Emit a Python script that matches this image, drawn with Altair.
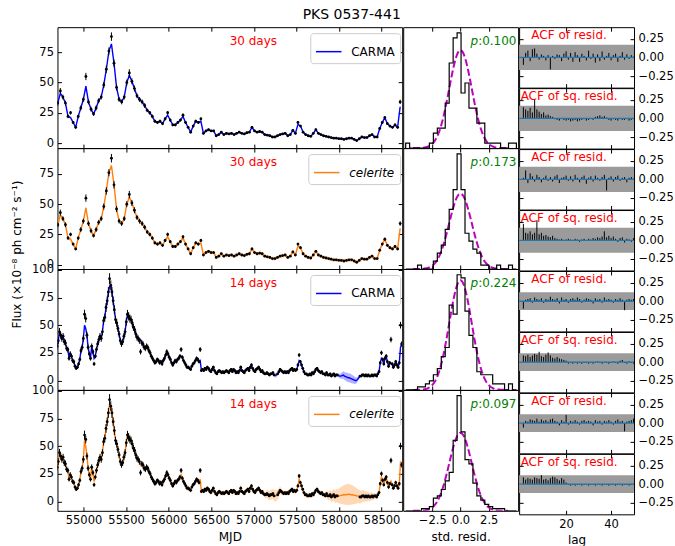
import numpy as np
import pandas as pd
import altair as alt

FONT = "DejaVu Sans"
FS = 11.5

# ---------------- PKS 0537-441 light curves ----------------
# 30-day binned fluxes (1e-8 ph cm^-2 s^-1), first bin centre MJD 54698
MJD0_30, STEP_30 = 54698, 30
flux_30 = [
    33, 43, 38, 33, 22, 25, 17, 13, 22, 29,
    36, 55, 34, 28, 24, 29, 35, 38, 48, 61,
    76, 88, 66, 46, 36, 34, 38, 50, 58, 51,
    45, 39, 36, 34, 31, 27, 25, 22, 18, 17,
    18, 16, 20, 25, 19, 15, 15, 17, 19, 23,
    17, 13, 9, 14, 18, 17, 20, 8, 10, 11,
    10, 10, 6, 7, 9, 7, 8, 7.5, 8, 7,
    8, 9, 8, 7.5, 8.5, 9, 13, 10, 9, 9.5,
    9, 7, 6.5, 6, 5, 5, 6, 7, 7.5, 8,
    6, 7, 10.5, 8, 17, 14, 9, 7, 6, 5.5,
    8, 11, 8, 7, 6, 5.5, 5, 4.5, 4, 4,
    3.6, 3.5, 3, 3.5, 4, 4, 3, 2, 3.5, 5,
    4.5, 4.5, 6, 7, 5, 5, 12, 17, 21, 16,
    14, 13, 15, 13, 34,
]
err_30 = [
    2, 2.5, 2, 2, 1.5, 1.5, 1.2, 1, 1.5, 2,
    2, 3, 2, 2, 1.5, 2, 2, 2, 2.5, 3,
    3, 3.5, 3, 2.5, 2, 2, 2, 2.5, 3, 2.5,
    2.5, 2, 2, 2, 2, 1.5, 1.5, 1.5, 1.2, 1.2,
    1.2, 1.2, 1.3, 1.5, 1.3, 1.1, 1.1, 1.2, 1.2, 1.5,
    1.2, 1, 0.8, 1, 1.2, 1.2, 1.3, 0.8, 0.9, 0.9,
    0.9, 0.9, 0.7, 0.7, 0.8, 0.7, 0.8, 0.7, 0.8, 0.7,
    0.8, 0.8, 0.8, 0.7, 0.8, 0.8, 1, 0.9, 0.8, 0.8,
    0.8, 0.7, 0.7, 0.7, 0.6, 0.6, 0.7, 0.7, 0.7, 0.8,
    0.7, 0.7, 0.9, 0.8, 1.1, 1, 0.8, 0.7, 0.7, 0.6,
    0.8, 0.9, 0.8, 0.7, 0.7, 0.6, 0.6, 0.6, 0.6, 0.6,
    0.5, 0.5, 0.5, 0.5, 0.6, 0.6, 0.5, 0.5, 0.5, 0.6,
    0.6, 0.6, 0.7, 0.7, 0.6, 0.6, 1, 1.2, 1.3, 1.1,
    1, 1, 1.1, 1, 1.8,
]
# bins where the fitted curves pass below/above the binned flux
fit_30_fix = {1: 41, 5: 21, 11: 47, 21: 82, 28: 56, 43: 23, 49: 22, 56: 18, 94: 15.5, 134: 30}

# 14-day binned fluxes, first bin centre MJD 54690 (None = no detection)
MJD0_14, STEP_14 = 54690, 14
flux_14 = [
    31, 36, 44, 41, 38, 40, 35, 34, 29, 28,
    20, 24, 22, 18, 17, 13, 11, 12, 15, 19,
    27, 30, 38, 60, 56, 41, 30, 24, 20, 31,
    26, 15, 22, 28, 33, 37, 40, 38, 44, 54,
    57, 66, 72, 80, 92, 86, 80, 72, 64, 55,
    52, 47, 42, 36, 33, 35, 40, 44, 53, 60,
    58, 56, 55, 52, 48, 46, 42, 39, 38, 36,
    26, 34, 33, 30, 29, 31, 30, 27, 25, 22,
    20, 18, 16, 17, 19, 18, 16, 17, 15, 18,
    20, 23, 26, 24, 21, 19, 16, 14, 16, 18,
    17, 19, 20, 22, 28, 21, 18, 16, 14, 12,
    12, 11, 10, 13, 15, 16, 18, 20, 19, 17,
    28, 9, 10, 9, 11, 10, 12, 11, 9, 8,
    10, 12, 9, 7, 6, 8, 9, 8, 7, 8,
    7, 8, 9, 8, 7, 9, 10, 8, 10, 9,
    7, 8, 7, 9, 12, 9, 8, 7, 9, 10,
    11, 9, 12, 14, 11, 9, 8, 10, 11, 12,
    10, 8, 9, 7, 6, 6, 7, 6, 5, 6,
    6, 7, 5, None, None, 6, 8, 10, 9, 8,
    7, 8, 7, 8, 7, 9, 10, 11, 9, 10,
    9, 10, 14, 23, 17, 14, 11, 8, 6, 6,
    5, 5, 6, 5, 7, 6, 8, 10, 11, 9,
    8, 7, 8, 6, 6, 5, 7, 5, 5, 6,
    4, 5, 6, 4, 5, 5, None, None, None, None,
    None, None, None, None, None, None, None, None, None, None,
    None, None, None, None, 4, 4, 5, 5, 4, 5,
    4, 5, 4, 4, 5, 4, 5, 5, 4, 6,
    8, 16, 25, 19, 15, 20, 22, 17, 13, 16,
    37, 15, 12, 14, 17, 14, 12, 16, 50, 33,
]
err_14 = [
    3, 3, 3.5, 3, 3, 3, 3, 3, 2.5, 2.5,
    2, 2.5, 2, 2, 2, 1.5, 1.5, 1.5, 1.8, 2,
    2.5, 2.5, 3, 4, 3.5, 3, 2.5, 2.2, 2, 2.5,
    2.3, 1.8, 2, 2.5, 2.8, 3, 3, 3, 3.2, 3.5,
    3.5, 4, 4, 4.5, 5, 4.5, 4.5, 4, 4, 3.5,
    3.5, 3.2, 3, 2.8, 2.6, 2.8, 3, 3.2, 3.5, 3.8,
    3.8, 3.6, 3.5, 3.5, 3.2, 3.2, 3, 3, 2.8, 2.8,
    2.5, 2.6, 2.6, 2.5, 2.5, 2.5, 2.5, 2.3, 2.2, 2,
    2, 1.8, 1.7, 1.8, 1.8, 1.8, 1.7, 1.7, 1.6, 1.8,
    1.9, 2, 2.2, 2, 1.9, 1.8, 1.6, 1.5, 1.6, 1.7,
    1.6, 1.7, 1.8, 1.9, 2.2, 1.8, 1.7, 1.6, 1.5, 1.3,
    1.3, 1.3, 1.2, 1.4, 1.5, 1.5, 1.6, 1.8, 1.7, 1.6,
    2.2, 1.1, 1.2, 1.1, 1.2, 1.2, 1.3, 1.2, 1.1, 1,
    1.2, 1.3, 1.1, 1, 0.9, 1, 1.1, 1, 1, 1,
    1, 1, 1.1, 1, 1, 1.1, 1.2, 1, 1.2, 1.1,
    1, 1, 1, 1.1, 1.3, 1.1, 1, 1, 1.1, 1.2,
    1.2, 1.1, 1.3, 1.4, 1.2, 1.1, 1, 1.2, 1.2, 1.3,
    1.2, 1, 1.1, 1, 0.9, 0.9, 1, 0.9, 0.8, 0.9,
    0.9, 1, 0.8, None, None, 0.9, 1, 1.2, 1.1, 1,
    1, 1, 1, 1, 1, 1.1, 1.2, 1.2, 1.1, 1.2,
    1.1, 1.2, 1.4, 1.8, 1.5, 1.4, 1.2, 1, 0.9, 0.9,
    0.8, 0.8, 0.9, 0.8, 1, 0.9, 1, 1.2, 1.2, 1.1,
    1, 1, 1, 0.9, 0.9, 0.8, 1, 0.8, 0.8, 0.9,
    0.8, 0.8, 0.9, 0.8, 0.8, 0.8, None, None, None, None,
    None, None, None, None, None, None, None, None, None, None,
    None, None, None, None, 0.8, 0.8, 0.9, 0.9, 0.8, 0.9,
    0.8, 0.9, 0.8, 0.8, 0.9, 0.8, 0.9, 0.9, 0.8, 1,
    1.1, 1.6, 2, 1.7, 1.5, 1.8, 1.9, 1.6, 1.4, 1.6,
    2.5, 1.5, 1.3, 1.5, 1.6, 1.5, 1.3, 1.6, 3, 2.4,
]
# fitted CARMA curve where it departs from the bins, and across the gaps
carma_14_fix = {
    23: 50, 24: 47, 31: 20, 44: 85, 70: 37, 104: 22, 120: 18, 183: 4.5, 184: 5,
    203: 18, 236: 4.5, 237: 4, 238: 4, 239: 4.5, 240: 5, 241: 4, 242: 3.5, 243: 3,
    244: 2.5, 245: 2.5, 246: 2, 247: 1.5, 248: 1, 249: 0.5, 250: 0, 251: 0,
    252: 1, 253: 2.5, 272: 20, 280: 15, 288: 30,
}
carma_14_band_fix = {
    183: 2, 184: 2, 236: 1.5, 237: 2, 238: 2.5, 239: 3, 240: 3.3, 241: 3.6, 242: 3.8,
    243: 4, 244: 4, 245: 4, 246: 4, 247: 4, 248: 3.8, 249: 3.5, 250: 3.2, 251: 2.8,
    252: 2.2, 253: 1.6,
}
celerite_14_fix = {
    23: 55, 24: 50, 31: 18, 44: 88, 70: 33, 104: 24, 120: 20, 183: 5, 184: 5.5,
    203: 20, 236: 5, 237: 5, 238: 5.5, 239: 5.5, 240: 6, 241: 6, 242: 6, 243: 6,
    244: 6.5, 245: 6.5, 246: 6, 247: 6, 248: 6, 249: 5.5, 250: 5.5, 251: 5,
    252: 5, 253: 4.5, 272: 22, 280: 18, 288: 35,
}
celerite_14_band_fix = {
    175: 3, 176: 3.5, 177: 4, 178: 4, 179: 4.5, 180: 4.5, 181: 4.5, 182: 5, 183: 5,
    184: 5, 185: 4.5, 186: 4, 187: 3.5, 188: 3,
    226: 3, 227: 3.5, 228: 4, 229: 4.5, 230: 5, 231: 5, 232: 5.5, 233: 5.5, 234: 6,
    235: 6, 236: 6.5, 237: 7, 238: 7.5, 239: 8, 240: 8.5, 241: 9, 242: 9, 243: 9.5,
    244: 9.5, 245: 9.5, 246: 9, 247: 9, 248: 8.5, 249: 8, 250: 7.5, 251: 7, 252: 6.5,
    253: 6, 254: 6, 255: 5.5, 256: 5.5, 257: 5, 258: 5, 259: 4.5, 260: 4.5, 261: 4,
    262: 4, 263: 3.5, 264: 3.5, 265: 3, 266: 3,
}

# ---------------- standardised residual histograms ----------------
HIST_EDGE0, HIST_BIN = -4.85, 0.35
hist_counts = [
    [1, 0, 0, 0, 0, 0, 1, 3, 4, 4, 9, 17, 22, 23, 11, 13, 8, 8, 5, 5, 1, 1, 1, 1, 0, 0, 1, 1],
    [0, 0, 0, 1, 0, 0, 0, 2, 4, 6, 10, 15, 20, 29, 20, 9, 7, 5, 4, 1, 1, 0, 0, 1, 0, 0, 1, 0],
    [0, 0, 0, 1, 1, 2, 3, 5, 7, 11, 14, 28, 25, 38, 37, 26, 18, 14, 6, 5, 5, 5, 2, 2, 2, 0, 2, 0],
    [0, 0, 0, 0, 1, 1, 2, 6, 7, 10, 14, 18, 33, 54, 37, 24, 22, 13, 7, 5, 3, 2, 1, 1, 1, 0, 0, 0],
]
p_values = ["0.100", "0.173", "0.224", "0.097"]

# ---------------- residual autocorrelations (lags 1..50) ----------------
acf_resid = [
    [-0.10, 0.06, 0.09, -0.05, 0.11, 0.12, 0.05, -0.03, 0.04, 0.02, -0.04, 0.03, -0.16, 0.02, -0.02, 0.04, 0.03,
     -0.05, 0.05, 0.08, -0.03, 0.06, -0.06, 0.07, 0.03, -0.06, 0.05, 0.02, -0.04, 0.09, -0.02, 0.05, -0.07, 0.04,
     -0.05, 0.08, -0.03, 0.02, 0.06, -0.04, 0.03, 0.05, -0.06, 0.02, 0.07, -0.03, 0.04, -0.02, 0.03, 0.01],
    [0.02, 0.12, -0.05, 0.08, 0.04, -0.03, 0.06, 0.03, -0.04, 0.02, 0.05, -0.02, 0.03, -0.03, 0.04, 0.06, -0.05,
     0.02, 0.03, 0.05, -0.02, 0.04, -0.03, 0.06, 0.02, -0.04, 0.03, 0.05, -0.06, 0.02, 0.04, -0.03, 0.05, 0.02,
     -0.02, 0.03, 0.06, -0.15, 0.02, 0.04, -0.03, 0.03, 0.05, -0.02, 0.02, 0.03, -0.04, 0.02, 0.03, 0.01],
    [-0.10, 0.02, 0.03, 0.04, -0.02, 0.05, 0.03, 0.02, 0.04, -0.02, 0.03, 0.02, 0.06, 0.03, 0.02, 0.04, -0.03,
     0.05, 0.02, 0.03, -0.02, 0.03, 0.04, 0.02, 0.05, 0.03, -0.02, 0.02, 0.04, 0.03, 0.02, -0.03, 0.04, 0.02,
     0.03, -0.02, 0.05, 0.02, 0.03, 0.02, -0.02, 0.03, 0.02, 0.04, 0.02, -0.12, 0.02, 0.03, 0.02, 0.03],
    [-0.06, 0.03, 0.02, 0.05, 0.04, 0.03, 0.06, 0.02, 0.05, 0.03, 0.04, 0.02, 0.05, 0.06, 0.03, 0.02, -0.03,
     0.04, 0.02, 0.11, -0.02, 0.03, 0.02, 0.04, 0.02, -0.02, 0.03, 0.04, 0.02, 0.03, 0.02, -0.03, 0.04, 0.02,
     0.03, -0.02, 0.03, 0.02, 0.04, 0.02, -0.02, 0.03, 0.05, 0.02, 0.03, -0.11, 0.02, 0.03, 0.04, 0.06],
]
acf_sq = [
    [0.15, 0.12, 0.10, 0.14, 0.08, 0.25, 0.12, 0.09, 0.06, 0.08, 0.04, 0.05, 0.03, 0.02, -0.01, -0.02, -0.03,
     -0.01, -0.02, -0.03, -0.02, -0.04, -0.03, -0.02, -0.04, -0.03, -0.02, -0.01, -0.03, -0.02, -0.01, -0.02,
     0.02, 0.03, 0.04, 0.02, 0.03, 0.01, -0.02, -0.03, -0.01, -0.02, -0.03, -0.01, -0.02, -0.02, -0.01, -0.03,
     -0.02, -0.01],
    [0.22, 0.10, 0.09, 0.12, 0.08, 0.10, 0.27, 0.08, 0.10, 0.06, 0.07, 0.05, 0.04, 0.06, 0.03, 0.02, 0.01, 0.02,
     -0.01, 0.01, 0.02, 0.01, -0.01, 0.02, 0.01, -0.02, 0.01, 0.02, -0.01, 0.02, 0.01, 0.03, 0.02, 0.04, 0.03,
     0.05, 0.12, 0.04, 0.06, 0.03, 0.05, 0.02, -0.02, 0.03, 0.04, -0.03, 0.02, 0.01, -0.02, 0.03],
    [0.09, 0.08, 0.10, 0.07, 0.09, 0.11, 0.10, 0.14, 0.08, 0.07, 0.10, 0.13, 0.09, 0.06, 0.05, 0.07, 0.05, 0.04,
     0.03, 0.02, -0.02, -0.01, -0.02, -0.01, -0.02, -0.01, -0.02, -0.01, -0.01, -0.02, -0.01, -0.02, -0.01, 0.01,
     -0.01, -0.02, -0.01, -0.01, -0.02, -0.01, 0.01, -0.01, -0.02, 0.02, 0.03, -0.01, -0.02, 0.01, -0.01, -0.02],
    [0.09, 0.06, 0.08, 0.07, 0.06, 0.09, 0.08, 0.07, 0.12, 0.06, 0.07, 0.05, 0.08, 0.10, 0.09, 0.07, 0.05, 0.08,
     0.06, 0.02, -0.01, -0.02, -0.01, -0.02, -0.01, -0.01, -0.02, -0.01, -0.01, -0.02, -0.01, -0.01, -0.02,
     -0.01, -0.01, -0.02, -0.01, -0.01, -0.02, -0.01, -0.01, -0.02, -0.01, -0.01, -0.02, -0.01, -0.01, -0.02,
     -0.01, -0.01],
]

# ---------------- layout constants ----------------
LC_W, HIST_W, ACF_W = 345, 115, 115
ROW_H = 121
ACF_H = ROW_H / 2
MJD_DOMAIN = [54694, 58742]
MJD_TICKS = list(range(55000, 58501, 500))
CARMA_COLOR = "#0000ff"
CELERITE_COLOR = "#ff7f0e"


def patched(values, fix):
    out = list(values)
    for k, v in fix.items():
        out[k] = v
    return out


def ax_in(orient, values, labels=False, title=None, fmt=None, **extra):
    """Matplotlib-style axis: ticks pointing into the frame, no domain line."""
    kw = dict(orient=orient, values=values, tickSize=4, offset=-4, domain=False, grid=False,
              labels=labels, tickColor="black", tickWidth=1, labelColor="black",
              labelFont=FONT, labelFontSize=FS, labelPadding=4, labelFlush=False,
              labelOverlap=False, title=title, titleFont=FONT, titleFontSize=12,
              titleFontWeight="normal", titleColor="black", titlePadding=5)
    if fmt is not None:
        kw["format"] = fmt
    kw.update(extra)
    return alt.Axis(**kw)


def lc_panel(t, flux, err, fit, band, color, name, days, ydom, yticks, bottom, italic, ytitle):
    pts = pd.DataFrame({"t": t, "flux": flux, "err": err}).dropna()
    pts["elo"] = pts["flux"] - pts["err"]
    pts["ehi"] = pts["flux"] + pts["err"]
    fit_df = pd.DataFrame({"t": t, "fit": fit, "hw": band})
    fit_df["blo"] = fit_df["fit"] - fit_df["hw"]
    fit_df["bhi"] = fit_df["fit"] + fit_df["hw"]
    fit_df["series"] = name

    xs = alt.Scale(domain=MJD_DOMAIN, nice=False, zero=False)
    ys = alt.Scale(domain=ydom, nice=False, zero=False)

    left_kw = {}
    if ytitle:
        left_kw = dict(titleX=-41.3, titleY=106, titleAngle=270, titleAlign="center",
                       titleBaseline="alphabetic", titleFontSize=12)
    axes_a = alt.Chart(fit_df).mark_line(opacity=0, clip=True).encode(
        x=alt.X("t:Q", scale=xs, axis=ax_in("bottom", MJD_TICKS, labels=bottom,
                                            title="MJD" if bottom else None, fmt="d")),
        y=alt.Y("fit:Q", scale=ys, axis=ax_in("left", yticks, labels=True,
                                              title=ytitle if ytitle else None, fmt="d", **left_kw)),
    )
    axes_b = alt.Chart(fit_df).mark_line(opacity=0, clip=True).encode(
        x=alt.X("t:Q", scale=xs, axis=ax_in("top", MJD_TICKS)),
        y=alt.Y("fit:Q", scale=ys, axis=ax_in("right", yticks)),
    )
    shade = alt.Chart(fit_df).mark_area(color=color, opacity=0.3, clip=True).encode(
        x=alt.X("t:Q", scale=xs, axis=None),
        y=alt.Y("blo:Q", scale=ys, axis=None),
        y2="bhi:Q",
    )
    legend_x = 251 if italic else 253
    line = alt.Chart(fit_df).mark_line(strokeWidth=1.4, clip=True).encode(
        x=alt.X("t:Q", scale=xs, axis=None),
        y=alt.Y("fit:Q", scale=ys, axis=None),
        color=alt.Color("series:N", scale=alt.Scale(domain=[name], range=[color]),
                        legend=alt.Legend(title=None, orient="none", legendX=legend_x, legendY=6,
                                          fillColor="white", strokeColor="#cccccc", cornerRadius=3,
                                          padding=5, symbolSize=650, symbolStrokeWidth=1.5,
                                          labelFont=FONT, labelFontSize=12, labelOffset=9,
                                          labelFontStyle="italic" if italic else "normal",
                                          labelColor="black")),
    )
    bars = alt.Chart(pts).mark_rule(color="black", strokeWidth=1, clip=True).encode(
        x=alt.X("t:Q", scale=xs, axis=None),
        y=alt.Y("elo:Q", scale=ys, axis=None),
        y2="ehi:Q",
    )
    dots = alt.Chart(pts).mark_circle(color="black", size=8, opacity=1, clip=True).encode(
        x=alt.X("t:Q", scale=xs, axis=None),
        y=alt.Y("flux:Q", scale=ys, axis=None),
    )
    label = alt.Chart(pd.DataFrame({"s": [days]})).mark_text(
        color="red", font=FONT, fontSize=12, align="center", baseline="middle"
    ).encode(text="s:N", x=alt.value(196), y=alt.value(14))
    return alt.layer(shade, line, bars, dots, axes_a, axes_b, label).resolve_axis(
        x="independent", y="independent").properties(width=LC_W, height=ROW_H)


def hist_panel(counts, pval, bottom):
    counts = np.asarray(counts, dtype=float)
    edges = HIST_EDGE0 + HIST_BIN * np.arange(len(counts) + 1)
    dens = counts / (counts.sum() * HIST_BIN)
    step = pd.DataFrame({
        "x": np.concatenate([[edges[0]], edges[:-1], [edges[-1]]]),
        "d": np.concatenate([[0.0], dens, [0.0]]),
    })
    step["i"] = np.arange(len(step))
    gx = np.linspace(-4.2, 4.2, 121)
    gauss = pd.DataFrame({"x": gx, "d": np.exp(-0.5 * gx ** 2) / np.sqrt(2 * np.pi)})

    xs = alt.Scale(domain=[-5.07, 5.1], nice=False, zero=False)
    ys = alt.Scale(domain=[0, dens.max() * 1.05], nice=False, zero=False)
    ticks = [-2.5, 0.0, 2.5]
    outline = alt.Chart(step).mark_line(color="black", strokeWidth=1.2, interpolate="step-after",
                                        clip=True).encode(
        x=alt.X("x:Q", scale=xs, axis=ax_in("bottom", ticks, labels=bottom,
                                            title="std. resid." if bottom else None, fmt=".1f")),
        y=alt.Y("d:Q", scale=ys, axis=None),
        order="i:Q",
    )
    top = alt.Chart(step).mark_line(opacity=0, clip=True).encode(
        x=alt.X("x:Q", scale=xs, axis=ax_in("top", ticks)),
        y=alt.Y("d:Q", scale=ys, axis=None),
    )
    curve = alt.Chart(gauss).mark_line(color="#bf00bf", strokeWidth=2, strokeDash=[7, 3], clip=True).encode(
        x=alt.X("x:Q", scale=xs, axis=None),
        y=alt.Y("d:Q", scale=ys, axis=None),
    )
    p_it = alt.Chart(pd.DataFrame({"s": ["p"]})).mark_text(
        color="green", font=FONT, fontSize=12, fontStyle="italic", align="right", baseline="middle"
    ).encode(text="s:N", x=alt.value(75), y=alt.value(14))
    p_val = alt.Chart(pd.DataFrame({"s": [":" + pval]})).mark_text(
        color="green", font=FONT, fontSize=12, align="left", baseline="middle"
    ).encode(text="s:N", x=alt.value(75), y=alt.value(14))
    return alt.layer(curve, outline, top, p_it, p_val).resolve_axis(
        x="independent", y="independent").properties(width=HIST_W, height=ROW_H)


def acf_panel(vals, n_points, title, bottom):
    df = pd.DataFrame({"lag": np.arange(1, len(vals) + 1), "v": vals})
    ci = 1.96 / np.sqrt(n_points)
    xs = alt.Scale(domain=[-0.9, 50.2], nice=False, zero=False)
    ys = alt.Scale(domain=[-0.405, 0.405], nice=False, zero=False)
    yt = [-0.25, 0.0, 0.25]
    xt = [20, 40]
    band = alt.Chart(pd.DataFrame({"lo": [-ci], "hi": [ci]})).mark_rect(color="#9b9b9b").encode(
        x=alt.value(0), x2=alt.value(ACF_W),
        y=alt.Y("lo:Q", scale=ys, axis=None), y2="hi:Q",
    )
    stems = alt.Chart(df).mark_rule(color="black", strokeWidth=1).encode(
        x=alt.X("lag:Q", scale=xs, axis=ax_in("bottom", xt, labels=bottom,
                                              title="lag" if bottom else None, fmt="d")),
        y=alt.Y("v:Q", scale=ys, axis=ax_in("right", yt, labels=True, fmt=".2f")),
        y2=alt.datum(0),
    )
    frame_axes = alt.Chart(df).mark_point(opacity=0).encode(
        x=alt.X("lag:Q", scale=xs, axis=ax_in("top", xt)),
        y=alt.Y("v:Q", scale=ys, axis=ax_in("left", yt)),
    )
    zero = alt.Chart(pd.DataFrame({"z": [0.0]})).mark_rule(color="#1f77b4", strokeWidth=1.3).encode(
        y=alt.Y("z:Q", scale=ys, axis=None),
    )
    text = alt.Chart(pd.DataFrame({"s": [title]})).mark_text(
        color="red", font=FONT, fontSize=12, align="center", baseline="middle"
    ).encode(text="s:N", x=alt.value(50), y=alt.value(8))
    return alt.layer(band, stems, zero, frame_axes, text).resolve_axis(
        x="independent", y="independent").properties(width=ACF_W, height=ACF_H)


# ---------------- assemble the three columns ----------------
t30 = [MJD0_30 + STEP_30 * i for i in range(len(flux_30))]
t14 = [MJD0_14 + STEP_14 * i for i in range(len(flux_14))]
fit_30 = patched(flux_30, fit_30_fix)
fit_14_carma = patched([v if v is not None else 0 for v in flux_14], carma_14_fix)
fit_14_cel = patched([v if v is not None else 0 for v in flux_14], celerite_14_fix)
band_14_carma = patched([1.0] * len(flux_14), carma_14_band_fix)
band_14_cel = patched([2.2] * len(flux_14), celerite_14_band_fix)

rows_spec = [
    (t30, flux_30, err_30, fit_30, [0.8] * len(flux_30), CARMA_COLOR, "CARMA", "30 days",
     [-4.2, 95.8], [0, 25, 50, 75], False, None, len(flux_30)),
    (t30, flux_30, err_30, fit_30, [1.5] * len(flux_30), CELERITE_COLOR, "celerite", "30 days",
     [-3.6, 96.4], [0, 25, 50, 75], True, "Flux (×10⁻⁸ ph cm⁻² s⁻¹)", len(flux_30)),
    (t14, flux_14, err_14, fit_14_carma, band_14_carma, CARMA_COLOR, "CARMA", "14 days",
     [-8.5, 100.8], [0, 25, 50, 75, 100], False, None, 272),
    (t14, flux_14, err_14, fit_14_cel, band_14_cel, CELERITE_COLOR, "celerite", "14 days",
     [-8.5, 100.8], [0, 25, 50, 75, 100], True, None, 272),
]

lc_col, hist_col, acf_col = [], [], []
for r, (t, fl, er, fit, band, col, name, days, ydom, yt, ital, ytitle, npts) in enumerate(rows_spec):
    last = r == len(rows_spec) - 1
    lc_col.append(lc_panel(t, fl, er, fit, band, col, name, days, ydom, yt, last, ital, ytitle))
    hist_col.append(hist_panel(hist_counts[r], p_values[r], last))
    acf_col.append(acf_panel(acf_resid[r], npts, "ACF of resid.", False))
    acf_col.append(acf_panel(acf_sq[r], npts, "ACF of sq. resid.", last))

chart = alt.hconcat(
    alt.vconcat(*lc_col, spacing=0, bounds="flush").resolve_scale(color="independent"),
    alt.vconcat(*hist_col, spacing=0, bounds="flush"),
    alt.vconcat(*acf_col, spacing=0, bounds="flush"),
    spacing=-2,
).resolve_scale(color="independent").properties(
    title=alt.TitleParams("PKS 0537-441", font=FONT, fontSize=14, fontWeight="normal",
                          color="black", anchor="middle", dx=10, offset=4),
    padding={"left": 9.5, "top": 8, "right": 1, "bottom": 0},
    background="white",
).configure(font=FONT).configure_view(stroke="black", strokeWidth=1)

chart.save("out.html", embed_options={"renderer": "svg", "actions": False})
